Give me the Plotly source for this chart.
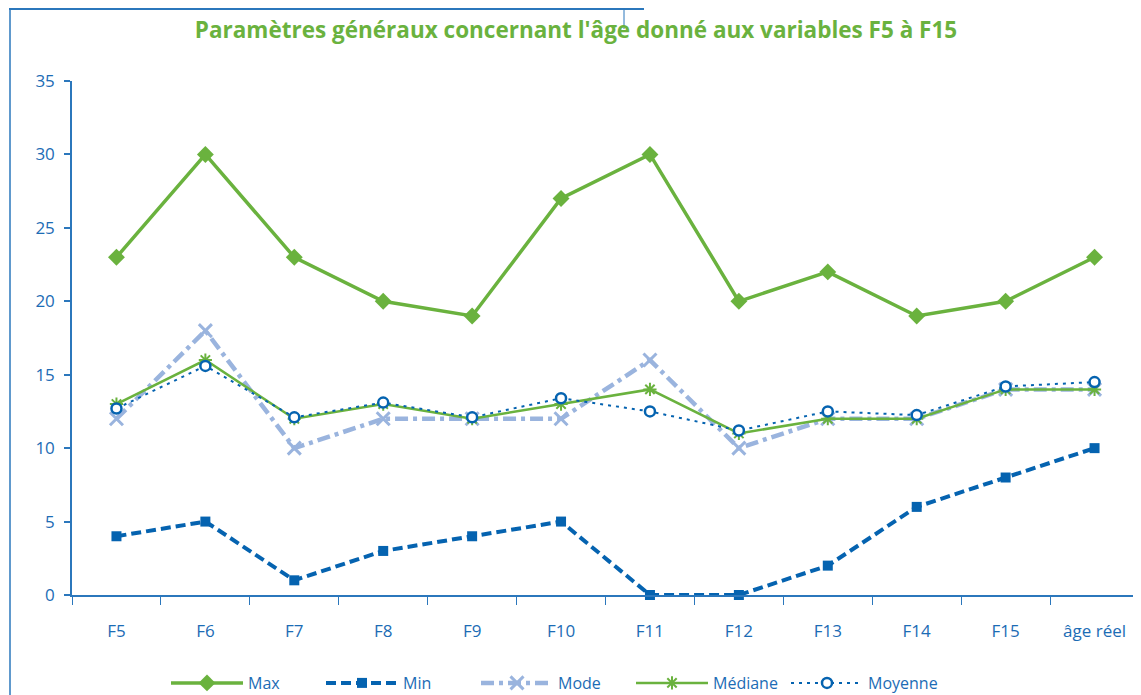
import plotly.graph_objects as go

categories = ["F5", "F6", "F7", "F8", "F9", "F10", "F11", "F12", "F13", "F14", "F15", "âge réel"]
max_vals = [23, 30, 23, 20, 19, 27, 30, 20, 22, 19, 20, 23]
min_vals = [4, 5, 1, 3, 4, 5, 0, 0, 2, 6, 8, 10]
mode_vals = [12, 18, 10, 12, 12, 12, 16, 10, 12, 12, 14, 14]
mediane_vals = [13, 16, 12, 13, 12, 13, 14, 11, 12, 12, 14, 14]
moyenne_vals = [12.7, 15.6, 12.1, 13.1, 12.1, 13.4, 12.5, 11.2, 12.5, 12.25, 14.2, 14.5]

GREEN = "#6AB23E"
DBLUE = "#0563B0"
LBLUE = "#9AB4DE"
AXIS = "#2B77BC"
TXT = "#1C6CB5"

fig = go.Figure()
fig.add_trace(go.Scatter(x=categories, y=max_vals, name="Max", mode="lines+markers",
                         line=dict(color=GREEN, width=3.5),
                         marker=dict(symbol="diamond", size=13, color=GREEN), cliponaxis=False))
fig.add_trace(go.Scatter(x=categories, y=min_vals, name="Min", mode="lines+markers",
                         line=dict(color=DBLUE, width=4, dash="10px,5px"),
                         marker=dict(symbol="square", size=10, color=DBLUE), cliponaxis=False))
fig.add_trace(go.Scatter(x=categories, y=mode_vals, name="Mode", mode="lines+markers",
                         line=dict(color=LBLUE, width=4.5, dash="13px,5px,4px,5px"),
                         marker=dict(symbol="x-thin-open", size=13, color=LBLUE,
                                     line=dict(color=LBLUE, width=3)), cliponaxis=False))
fig.add_trace(go.Scatter(x=categories, y=mediane_vals, name="Médiane", mode="lines+markers",
                         line=dict(color=GREEN, width=2.5),
                         marker=dict(symbol="asterisk-open", size=11, color=GREEN,
                                     line=dict(color=GREEN, width=2)), cliponaxis=False))
fig.add_trace(go.Scatter(x=categories, y=moyenne_vals, name="Moyenne", mode="lines+markers",
                         line=dict(color=DBLUE, width=2, dash="3px,5px"),
                         marker=dict(symbol="circle", size=10, color="white",
                                     line=dict(color=DBLUE, width=2.5)), cliponaxis=False))

# page has an 8px body margin; work in page pixels and convert
OFF = 8
W, H = 1141 - OFF, 695 - OFF
L, R, T, B = 72 - OFF, 1139 - OFF, 81 - OFF, 595 - OFF
def px_x(p):
    return (p - OFF - L) / (R - L)
def px_y(p):
    return (B - (p - OFF)) / (B - T)

shapes = [
    dict(type="line", xref="paper", yref="paper", x0=px_x(10), x1=px_x(10), y0=px_y(8.5), y1=px_y(700),
         line=dict(color=AXIS, width=1.5)),
    dict(type="line", xref="paper", yref="paper", x0=px_x(9), x1=px_x(644), y0=px_y(9), y1=px_y(9),
         line=dict(color=AXIS, width=2)),
    dict(type="line", xref="paper", yref="paper", x0=px_x(624), x1=px_x(624), y0=px_y(8), y1=px_y(29),
         line=dict(color=AXIS, width=1)),
]

fig.update_layout(
    width=W, height=H,
    margin=dict(l=L, r=W - R, t=T, b=H - B, autoexpand=False),
    paper_bgcolor="white", plot_bgcolor="white",
    font=dict(family="Open Sans", color=TXT, size=16),
    title=dict(text="<b>Paramètres généraux concernant l'âge donné aux variables F5 à F15</b>",
               x=(576 - OFF) / W, xanchor="center", y=1 - (30 - OFF) / H, yanchor="middle",
               font=dict(family="Open Sans", size=22.5, color=GREEN)),
    xaxis=dict(showgrid=False, zeroline=False, showline=True, linecolor=AXIS, linewidth=1.5,
               ticks="outside", tickson="boundaries", ticklen=8, tickcolor=AXIS, tickwidth=1,
               tickfont=dict(size=17, color=TXT), ticklabelstandoff=20,
               range=[-0.5, 11.5]),
    yaxis=dict(showgrid=False, zeroline=False, showline=True, linecolor=AXIS, linewidth=1.5,
               ticks="outside", ticklen=6, tickcolor=AXIS, tickwidth=1.5,
               tickfont=dict(size=17, color=TXT), range=[0, 35], dtick=5,
               ticklabelstandoff=6),
    legend=dict(orientation="h", x=px_x(166), xanchor="left", y=px_y(683), yanchor="middle",
                font=dict(size=16, color=TXT), itemwidth=72, entrywidth=68,
                entrywidthmode="pixels", bgcolor="rgba(0,0,0,0)"),
    shapes=shapes,
)

fig.write_html("out.html")
